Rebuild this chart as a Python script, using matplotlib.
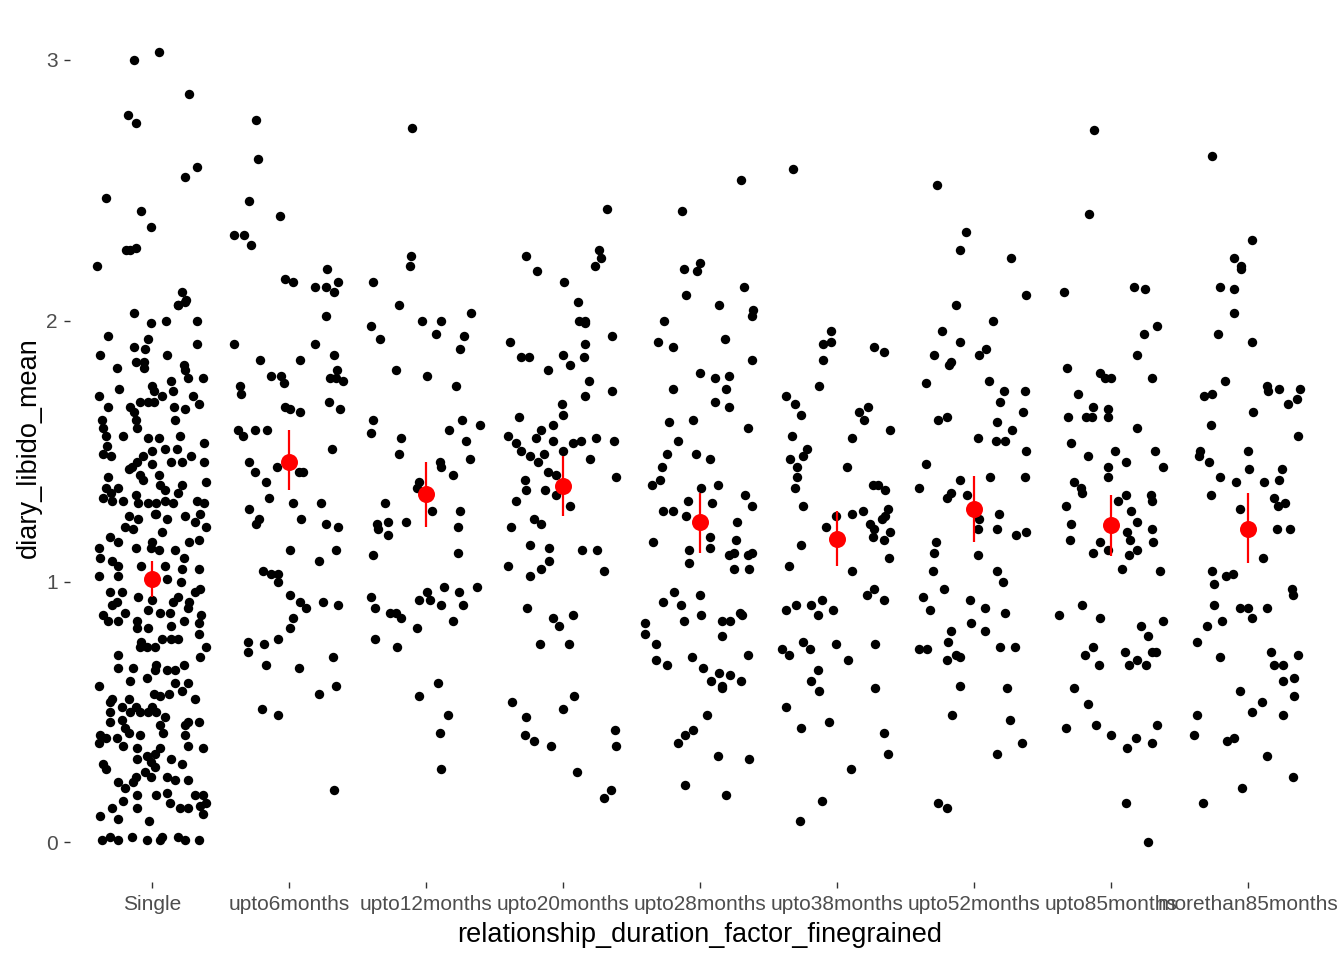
import matplotlib
matplotlib.use("Agg")
import matplotlib.pyplot as plt
import numpy as np

plt.rcParams['font.family'] = ['Liberation Sans', 'DejaVu Sans']

categories = ["Single", "upto6months", "upto12months", "upto20months", "upto28months",
              "upto38months", "upto52months", "upto85months", "morethan85months"]

# group means and interval ends
mean_vals = [1.01, 1.46, 1.335, 1.365, 1.227, 1.165, 1.278, 1.215, 1.203]
lower_vals = [0.94, 1.35, 1.21, 1.25, 1.11, 1.06, 1.15, 1.097, 1.07]
upper_vals = [1.08, 1.58, 1.46, 1.48, 1.34, 1.27, 1.405, 1.33, 1.34]

# individual observations: (jitter, diary_libido_mean)
single_pts = [
 (0.05,3.03),(-0.13,3.00),(0.27,2.87),(-0.18,2.79),(-0.12,2.76),(0.33,2.59),(0.24,2.55),(-0.34,2.47),
 (-0.08,2.42),(-0.01,2.36),(-0.19,2.27),(-0.12,2.28),(-0.16,2.27),(-0.40,2.21),(0.22,2.11),(0.25,2.08),(0.19,2.06),
 (0.19,2.06),(0.24,2.07),(-0.13,2.03),(-0.01,1.99),(0.10,2.00),(0.33,2.00),(-0.32,1.94),(-0.03,1.93),(0.33,1.91),
 (-0.38,1.87),(-0.13,1.90),(-0.05,1.89),(0.11,1.87),(-0.26,1.82),(-0.12,1.84),(-0.06,1.84),(-0.06,1.82),(0.23,1.83),
 (0.24,1.81),(0.26,1.78),(0.37,1.78),(0.14,1.77),(-0.24,1.74),(0.00,1.75),(0.01,1.73),(0.07,1.71),(0.15,1.73),
 (-0.39,1.71),(0.30,1.71),(0.34,1.68),(-0.09,1.69),(-0.03,1.69),(0.01,1.69),(-0.32,1.67),(-0.16,1.67),(-0.13,1.65),
 (0.16,1.67),(0.24,1.66),(-0.37,1.62),(-0.12,1.62),(-0.11,1.59),(0.17,1.62),(-0.36,1.59),(-0.34,1.56),(-0.21,1.56),
 (-0.03,1.55),(0.05,1.55),(0.20,1.56),(-0.33,1.52),(0.09,1.51),(0.38,1.53),(0.18,1.51),(0.00,1.50),(-0.36,1.49),
 (-0.30,1.48),(-0.07,1.48),(-0.11,1.46),(-0.15,1.44),(-0.17,1.43),(0.00,1.45),(0.14,1.46),(0.22,1.46),(0.28,1.48),
 (0.38,1.46),(0.05,1.41),(-0.09,1.41),(-0.07,1.39),(-0.32,1.40),(0.06,1.37),(0.09,1.35),(0.22,1.37),(0.39,1.38),
 (-0.34,1.36),(-0.25,1.36),(-0.30,1.34),(-0.36,1.32),(-0.29,1.31),(-0.21,1.31),(-0.12,1.33),(-0.10,1.30),(-0.03,1.30),
 (0.03,1.30),(0.02,1.26),(0.09,1.31),(0.19,1.34),(0.33,1.31),(0.38,1.30),(0.15,1.30),(-0.17,1.25),(-0.20,1.21),
 (-0.14,1.20),(-0.10,1.24),(0.03,1.26),(0.11,1.24),(0.24,1.25),(0.31,1.23),(0.35,1.26),(0.39,1.21),(-0.31,1.17),
 (-0.25,1.15),(-0.12,1.13),(0.00,1.15),(-0.01,1.13),(0.07,1.19),(0.05,1.12),(0.17,1.12),(0.23,1.09),(0.27,1.15),
 (0.34,1.16),(-0.39,1.13),(-0.38,1.09),(-0.29,1.08),(-0.25,1.06),(-0.08,1.06),(0.09,1.06),(0.22,1.05),(0.34,1.05),
 (-0.39,1.02),(-0.25,1.02),(0.11,1.01),(0.21,1.00),(-0.10,0.94),(0.00,0.93),(-0.31,0.96),(-0.22,0.96),(-0.26,0.92),
 (-0.29,0.91),(-0.36,0.87),(-0.32,0.85),(-0.25,0.85),(-0.20,0.88),(-0.03,0.89),(0.06,0.88),(0.13,0.88),(0.15,0.92),
 (0.19,0.94),(0.27,0.92),(0.31,0.96),(0.35,0.97),(0.26,0.90),(0.36,0.87),(0.34,0.84),(0.23,0.85),(0.14,0.83),
 (-0.11,0.85),(-0.11,0.82),(-0.03,0.82),(0.07,0.78),(0.14,0.78),(0.19,0.78),(0.34,0.80),(-0.08,0.77),(-0.09,0.75),
 (-0.04,0.75),(0.02,0.75),(0.39,0.75),(0.35,0.71),(-0.25,0.72),(-0.25,0.67),(-0.14,0.67),(-0.04,0.63),(0.02,0.66),
 (0.03,0.68),(0.11,0.66),(0.17,0.66),(0.23,0.68),(-0.16,0.62),(-0.39,0.60),(-0.29,0.55),(-0.31,0.54),(-0.17,0.55),
 (-0.22,0.52),(-0.12,0.52),(-0.16,0.50),(-0.09,0.50),(-0.03,0.50),(0.01,0.57),(0.06,0.56),(0.12,0.57),(0.17,0.61),
 (0.22,0.58),(0.26,0.61),(0.31,0.55),(0.00,0.52),(0.03,0.50),(0.09,0.48),(0.06,0.45),(0.08,0.42),(-0.31,0.50),
 (-0.31,0.46),(-0.22,0.47),(-0.20,0.44),(-0.17,0.42),(-0.09,0.41),(0.24,0.45),(0.26,0.46),(0.34,0.46),(0.24,0.41),
 (-0.38,0.41),(-0.34,0.40),(-0.39,0.38),(-0.26,0.40),(-0.21,0.37),(-0.11,0.36),(-0.11,0.32),(-0.04,0.33),(0.02,0.34),
 (0.06,0.36),(0.02,0.29),(-0.01,0.31),(0.14,0.32),(0.22,0.30),(0.26,0.37),(0.37,0.36),(-0.36,0.30),(-0.34,0.28),
 (-0.25,0.23),(-0.20,0.21),(-0.14,0.23),(-0.12,0.25),(-0.05,0.27),(-0.01,0.25),(0.11,0.25),(0.17,0.24),(0.26,0.24),
 (-0.21,0.16),(-0.11,0.18),(0.03,0.18),(0.11,0.19),(0.13,0.15),(0.31,0.18),(0.37,0.18),(0.20,0.13),(0.26,0.13),
 (0.35,0.14),(0.39,0.15),(0.37,0.11),(-0.29,0.13),(-0.38,0.10),(-0.25,0.09),(-0.11,0.13),(-0.02,0.08),(-0.37,0.01),
 (-0.31,0.02),(-0.25,0.01),(-0.15,0.02),(-0.04,0.01),(0.06,0.01),(0.07,0.02),(0.19,0.02),(0.24,0.01),(0.34,0.01),
]
upto6_pts = [
 (-0.24,2.77),(-0.23,2.62),(-0.29,2.46),(-0.07,2.40),(-0.40,2.33),(-0.33,2.33),(-0.28,2.29),(-0.03,2.16),(0.03,2.15),
 (0.28,2.20),(0.36,2.15),(0.19,2.13),(0.27,2.13),(0.33,2.11),(0.27,2.02),(-0.40,1.91),(0.19,1.91),(0.33,1.87),
 (-0.21,1.85),(0.08,1.85),(-0.13,1.79),(-0.06,1.79),(-0.04,1.76),(0.35,1.81),(0.30,1.78),(0.34,1.78),(0.39,1.77),
 (-0.36,1.75),(-0.35,1.72),(-0.03,1.67),(0.01,1.66),(0.08,1.65),(0.29,1.69),(0.37,1.66),(-0.37,1.58),(-0.34,1.56),
 (-0.25,1.58),(-0.16,1.58),(0.31,1.51),(-0.29,1.46),(-0.09,1.44),(-0.25,1.42),(0.07,1.42),(0.10,1.42),(-0.17,1.38),
 (-0.15,1.32),(0.03,1.30),(-0.29,1.28),(0.23,1.30),(-0.22,1.24),(-0.24,1.22),(0.09,1.24),(0.27,1.22),(0.36,1.21),
 (0.01,1.12),(0.22,1.08),(0.34,1.12),(-0.19,1.04),(-0.13,1.03),(-0.08,1.03),(-0.08,1.00),(0.01,0.95),(0.08,0.92),
 (0.12,0.90),(0.25,0.92),(0.36,0.91),(0.03,0.86),(0.01,0.82),(-0.30,0.77),(-0.30,0.73),(-0.18,0.76),(-0.08,0.78),
 (-0.17,0.68),(0.07,0.67),(0.32,0.71),(0.34,0.60),(0.22,0.57),(-0.20,0.51),(-0.08,0.49),(0.33,0.20),
]
upto12_pts = [
 (-0.10,2.74),(-0.11,2.25),(-0.12,2.21),(-0.39,2.15),(-0.20,2.06),(-0.40,1.98),(-0.34,1.93),(-0.03,2.00),(0.07,1.95),
 (0.11,2.00),(0.33,2.03),(0.28,1.94),(0.25,1.89),(-0.22,1.81),(0.01,1.79),(0.22,1.75),(-0.39,1.62),(-0.40,1.57),
 (-0.18,1.55),(-0.20,1.49),(0.17,1.58),(0.26,1.62),(0.39,1.60),(0.29,1.54),(0.32,1.47),(0.10,1.46),(0.11,1.44),
 (0.20,1.41),(-0.05,1.38),(-0.07,1.36),(-0.30,1.30),(0.04,1.27),(-0.15,1.23),(0.25,1.27),(-0.36,1.22),(-0.28,1.23),
 (-0.35,1.20),(-0.28,1.18),(0.23,1.21),(-0.39,1.10),(0.23,1.11),(-0.40,0.94),(-0.37,0.90),(-0.05,0.93),(0.01,0.96),
 (0.03,0.93),(0.13,0.98),(0.11,0.91),(0.24,0.96),(0.27,0.91),(0.37,0.98),(0.20,0.85),(-0.26,0.88),(-0.22,0.88),
 (-0.18,0.86),(-0.07,0.82),(-0.37,0.78),(-0.21,0.75),(0.09,0.61),(-0.05,0.56),(0.16,0.49),(0.10,0.42),(0.11,0.28),
]
upto20_pts = [
 (0.32,2.43),(0.26,2.27),(0.28,2.24),(0.23,2.21),(-0.27,2.25),(-0.19,2.19),(0.01,2.15),(0.11,2.07),(0.12,2.00),
 (0.16,2.00),(0.16,1.99),(0.36,1.94),(-0.39,1.92),(-0.31,1.86),(-0.25,1.86),(0.00,1.87),(0.05,1.83),(0.16,1.91),
 (0.15,1.86),(-0.11,1.81),(0.19,1.77),(0.36,1.73),(0.16,1.71),(-0.01,1.68),(0.00,1.64),(-0.32,1.63),(-0.40,1.56),
 (-0.34,1.53),(-0.31,1.50),(-0.24,1.48),(-0.20,1.55),(-0.16,1.58),(-0.07,1.60),(-0.07,1.54),(-0.14,1.49),(-0.18,1.46),
 (0.00,1.50),(0.07,1.53),(0.13,1.54),(0.24,1.55),(0.37,1.54),(0.20,1.47),(0.39,1.40),(-0.11,1.42),(-0.05,1.41),
 (-0.28,1.39),(-0.27,1.35),(-0.13,1.35),(-0.05,1.33),(-0.34,1.31),(0.05,1.29),(-0.38,1.21),(-0.21,1.24),(-0.16,1.22),
 (-0.24,1.14),(-0.10,1.13),(-0.10,1.08),(-0.16,1.05),(-0.40,1.06),(-0.24,1.02),(0.14,1.12),(0.25,1.12),(0.30,1.04),
 (-0.26,0.90),(-0.07,0.86),(-0.03,0.83),(0.07,0.87),(-0.17,0.76),(0.04,0.76),(-0.37,0.54),(0.08,0.56),(0.00,0.51),
 (-0.27,0.48),(-0.28,0.41),(-0.21,0.39),(-0.09,0.37),(0.38,0.43),(0.39,0.37),(0.10,0.27),(0.35,0.20),(0.30,0.17),
]
upto28_pts = [
 (0.30,2.54),(-0.13,2.42),(-0.12,2.20),(-0.02,2.19),(0.00,2.22),(0.32,2.13),(-0.10,2.10),(0.14,2.06),(0.38,2.02),
 (0.39,2.04),(-0.26,2.00),(-0.31,1.92),(-0.20,1.90),(0.18,1.93),(0.38,1.85),(0.00,1.80),(0.11,1.78),(0.21,1.79),
 (-0.20,1.74),(0.19,1.74),(0.11,1.69),(0.21,1.67),(-0.23,1.61),(-0.05,1.62),(0.35,1.59),(-0.16,1.54),(-0.24,1.49),
 (-0.03,1.49),(0.07,1.47),(-0.28,1.44),(-0.35,1.37),(-0.29,1.39),(0.01,1.36),(0.13,1.37),(0.33,1.33),(0.38,1.29),
 (-0.09,1.31),(0.09,1.30),(-0.27,1.27),(-0.20,1.27),(-0.10,1.25),(0.27,1.23),(-0.34,1.15),(0.07,1.17),(0.07,1.13),
 (0.26,1.16),(-0.08,1.12),(-0.08,1.07),(0.21,1.10),(0.25,1.11),(0.35,1.10),(0.38,1.11),(0.25,1.05),(0.36,1.05),
 (-0.19,0.96),(-0.27,0.92),(-0.14,0.91),(0.00,0.95),(0.01,0.87),(-0.12,0.85),(0.29,0.88),(0.31,0.87),(0.16,0.85),
 (0.22,0.85),(-0.40,0.84),(-0.40,0.80),(-0.32,0.76),(0.16,0.79),(-0.32,0.70),(-0.24,0.68),(-0.06,0.71),(0.02,0.67),
 (0.08,0.62),(0.14,0.65),(0.22,0.64),(0.16,0.60),(0.16,0.59),(0.30,0.62),(0.35,0.72),(0.05,0.49),(-0.05,0.43),
 (-0.11,0.41),(-0.16,0.38),(0.13,0.33),(0.36,0.32),(-0.11,0.22),(0.19,0.18),
]
upto38_pts = [
 (-0.32,2.58),(-0.04,1.96),(-0.10,1.91),(-0.04,1.92),(-0.10,1.85),(0.27,1.90),(0.34,1.88),(-0.13,1.75),(-0.37,1.71),
 (-0.31,1.68),(-0.26,1.64),(0.23,1.67),(0.16,1.65),(0.20,1.62),(0.39,1.58),(-0.33,1.56),(0.11,1.55),(-0.22,1.51),
 (-0.25,1.48),(-0.34,1.47),(-0.29,1.44),(0.07,1.44),(-0.29,1.40),(-0.31,1.36),(0.26,1.37),(0.30,1.37),(0.35,1.35),
 (-0.25,1.29),(-0.01,1.25),(0.11,1.26),(0.19,1.27),(0.37,1.28),(0.35,1.25),(0.33,1.24),(0.24,1.22),(0.27,1.20),
 (-0.08,1.21),(0.26,1.17),(0.34,1.16),(0.39,1.19),(-0.26,1.14),(0.38,1.09),(-0.35,1.06),(0.11,1.04),(0.22,0.95),
 (0.27,0.97),(0.34,0.93),(-0.37,0.89),(-0.30,0.91),(-0.19,0.91),(-0.11,0.93),(-0.14,0.87),(-0.03,0.89),(-0.40,0.74),
 (-0.35,0.72),(-0.25,0.77),(-0.20,0.74),(-0.01,0.76),(0.08,0.70),(0.28,0.76),(-0.14,0.66),(-0.19,0.62),(-0.13,0.58),
 (0.28,0.59),(-0.37,0.52),(-0.26,0.44),(-0.06,0.46),(0.34,0.42),(0.37,0.34),(0.10,0.28),(-0.11,0.16),(-0.27,0.08),
]
upto52_pts = [
 (-0.27,2.52),(-0.06,2.34),(-0.10,2.27),(0.27,2.24),(0.38,2.10),(-0.13,2.06),(0.14,2.00),(-0.23,1.96),(-0.10,1.92),
 (-0.29,1.87),(0.04,1.87),(0.09,1.89),(-0.17,1.84),(-0.18,1.83),(-0.35,1.76),(0.11,1.77),(0.22,1.73),(0.37,1.73),
 (0.19,1.69),(0.36,1.65),(-0.26,1.62),(-0.20,1.63),(0.17,1.61),(0.28,1.58),(0.03,1.55),(0.16,1.54),(0.23,1.54),
 (0.38,1.50),(-0.35,1.45),(-0.10,1.39),(0.12,1.40),(0.37,1.40),(-0.40,1.36),(-0.17,1.34),(-0.20,1.32),(-0.05,1.33),
 (0.18,1.26),(0.04,1.24),(0.03,1.20),(0.17,1.20),(0.31,1.18),(0.38,1.19),(-0.28,1.15),(-0.29,1.11),(0.03,1.10),
 (-0.30,1.04),(0.17,1.04),(0.21,1.00),(-0.22,0.97),(-0.37,0.94),(-0.32,0.89),(-0.03,0.93),(0.08,0.90),(0.23,0.88),
 (-0.02,0.84),(0.08,0.81),(-0.17,0.81),(-0.19,0.77),(-0.40,0.74),(-0.34,0.74),(-0.13,0.72),(-0.10,0.71),(-0.20,0.70),
 (0.19,0.75),(0.30,0.75),(-0.10,0.60),(0.24,0.59),(-0.16,0.49),(0.26,0.47),(0.35,0.38),(0.17,0.34),(-0.26,0.15),
 (-0.20,0.13),
]
upto85_pts = [
 (-0.12,2.73),(-0.16,2.41),(-0.34,2.11),(0.17,2.13),(0.25,2.12),(0.24,1.95),(0.34,1.98),(0.19,1.87),(-0.32,1.82),
 (-0.08,1.80),(-0.04,1.78),(0.00,1.78),(0.30,1.78),(-0.24,1.72),(-0.13,1.67),(-0.14,1.63),(-0.18,1.63),(-0.02,1.66),
 (-0.02,1.63),(-0.31,1.63),(0.19,1.59),(-0.29,1.53),(-0.17,1.48),(0.03,1.50),(0.11,1.46),(0.32,1.50),(0.38,1.44),
 (-0.02,1.44),(-0.02,1.40),(-0.27,1.38),(-0.22,1.36),(-0.21,1.34),(-0.33,1.29),(0.11,1.33),(0.05,1.31),(0.29,1.33),
 (0.30,1.31),(0.15,1.27),(0.19,1.23),(-0.29,1.22),(-0.30,1.16),(-0.08,1.15),(-0.02,1.12),(-0.13,1.11),(0.12,1.19),
 (0.14,1.16),(0.13,1.10),(0.19,1.12),(0.30,1.20),(0.31,1.15),(0.08,1.05),(0.36,1.04),(-0.38,0.87),(-0.21,0.91),
 (-0.08,0.86),(0.22,0.83),(0.27,0.79),(0.38,0.85),(-0.13,0.75),(-0.19,0.72),(-0.09,0.68),(0.10,0.73),(0.13,0.68),
 (0.19,0.70),(0.26,0.68),(0.30,0.73),(0.33,0.73),(-0.27,0.59),(-0.17,0.53),(-0.33,0.44),(-0.11,0.45),(0.00,0.41),
 (0.18,0.40),(0.12,0.36),(0.34,0.45),(0.30,0.38),(0.11,0.15),(0.27,0.00),
]
morethan85_pts = [
 (-0.26,2.63),(0.03,2.31),(-0.10,2.24),(-0.05,2.21),(-0.05,2.20),(-0.20,2.13),(-0.10,2.12),(-0.10,2.03),(-0.22,1.95),
 (0.03,1.92),(-0.17,1.77),(-0.32,1.71),(-0.26,1.72),(0.14,1.75),(0.15,1.73),(0.23,1.74),(0.38,1.74),(0.36,1.70),
 (0.29,1.68),(0.04,1.65),(-0.27,1.60),(0.37,1.56),(-0.35,1.50),(-0.36,1.48),(-0.28,1.46),(0.00,1.50),(0.01,1.43),
 (-0.20,1.40),(-0.09,1.38),(0.12,1.38),(0.23,1.39),(0.25,1.43),(-0.27,1.33),(-0.06,1.28),(0.19,1.32),(0.22,1.29),
 (0.27,1.30),(0.21,1.20),(0.31,1.20),(0.11,1.09),(-0.26,1.04),(-0.25,0.99),(-0.16,1.02),(-0.11,1.03),(0.32,0.97),
 (0.33,0.95),(-0.25,0.91),(-0.06,0.90),(0.00,0.90),(0.14,0.90),(0.03,0.86),(-0.30,0.83),(-0.19,0.85),(-0.37,0.77),
 (-0.20,0.71),(0.17,0.73),(0.37,0.72),(0.19,0.68),(0.26,0.68),(0.26,0.62),(0.34,0.63),(-0.06,0.58),(0.10,0.54),
 (0.03,0.50),(0.34,0.56),(0.26,0.49),(-0.37,0.49),(-0.39,0.41),(-0.15,0.39),(-0.10,0.40),(0.14,0.33),(0.33,0.25),
 (-0.04,0.21),(-0.33,0.15),
]

groups = [single_pts, upto6_pts, upto12_pts, upto20_pts, upto28_pts,
          upto38_pts, upto52_pts, upto85_pts, morethan85_pts]

fig = plt.figure(figsize=(13.44, 9.6), dpi=100)
ax = fig.add_axes([70/1344, 78/960, 1260/1344, 869/960])

for i, pts in enumerate(groups):
    arr = np.array(pts)
    ax.scatter(i + 1 + arr[:, 0], arr[:, 1], s=46, color='black', linewidths=0, zorder=2)

xs = np.arange(1, len(categories) + 1)
ax.vlines(xs, lower_vals, upper_vals, color='red', linewidth=1.6, zorder=3)
ax.scatter(xs, mean_vals, s=150, color='red', linewidths=0, zorder=4)

ax.set_xlim(0.4, len(categories) + 0.6)
ax.set_ylim(-0.152, 3.18)
ax.set_xticks(xs)
ax.set_xticklabels(categories)
ax.set_yticks([0, 1, 2, 3])
ax.set_yticklabels(['0', '1', '2', '3'])
for s in ax.spines.values():
    s.set_visible(False)
ax.tick_params(axis='both', colors='#333333', length=4, width=1, labelsize=15,
               labelcolor='#4D4D4D', pad=5)
ax.set_xlabel('relationship_duration_factor_finegrained', fontsize=19.5, color='black', labelpad=6)
ax.set_ylabel('diary_libido_mean', fontsize=19.5, color='black', labelpad=3)

fig.savefig('out.png', dpi=100)
